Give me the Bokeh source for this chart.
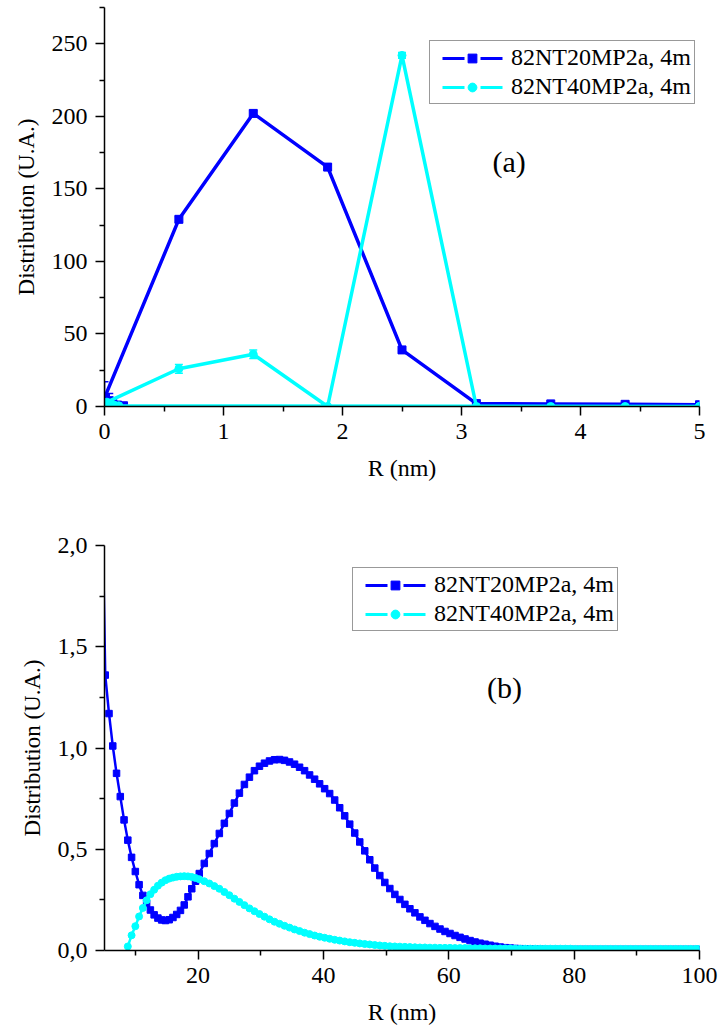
from bokeh.plotting import figure
from bokeh.models import (ColumnDataSource, Whisker, Legend, LegendItem, Label,
                          FixedTicker, CustomJSTickFormatter, Range1d, TeeHead)
from bokeh.layouts import column
from bokeh.embed import file_html
from bokeh.resources import INLINE

FONT = "Liberation Serif"
BLUE = "#0000ff"
CYAN = "#00ffff"
nan = float("nan")

# ---------------- data: panel (a) ----------------
label_20 = "82NT20MP2a, 4m"
label_40 = "82NT40MP2a, 4m"

a_r_20 = [0.16, 0.11, 0.07, 0.04, 0.0, 0.625, 1.25, 1.875, 2.5, 3.125, 3.75, 4.375, 5.0]
a_y_20 = [0.5, 1.0, 2.0, 4.0, 6.0, 129.0, 202.0, 165.0, 39.0, 2.0, 1.8, 1.5, 1.2]
a_e_20 = [0.5, 1.0, 2.0, 5.0, 11.0, 2.0, 2.0, 2.0, 1.5, 1.0, 1.0, 1.0, 1.0]

a_r_40 = [5.0, 0.12, 0.08, 0.05, 0.02, 0.625, 1.25, 1.875, 2.5, 3.125, 3.75, 4.375, 5.0]
a_y_40 = [0.0, 0.5, 1.0, 1.8, 3.0, 26.0, 36.0, 0.0, 242.0, 0.0, 0.0, 0.0, 0.0]
a_e_40 = [0.0, 0.3, 0.5, 1.0, 1.5, 3.0, 3.0, 0.5, 2.0, 0.5, 0.0, 0.0, 0.0]

a_xticks = [0, 1, 2, 3, 4, 5]
a_xminor = [0.5, 1.5, 2.5, 3.5, 4.5]
a_yticks = [0, 50, 100, 150, 200, 250]
a_yminor = [25, 75, 125, 175, 225, 275]

# ---------------- data: panel (b) ----------------
b_r = [4.5, 5.2, 5.8, 6.4, 7.0, 7.6, 8.2, 8.8, 9.4, 10.0, 10.6, 11.2, 11.8,
       12.4, 13.0, 13.6, 14.2, 14.8, 15.4, 16.0, 16.6, 17.2, 17.8, 18.4, 19.0, 19.6,
       20.2, 21.0, 21.8, 22.6, 23.4, 24.2, 25.0, 25.8, 26.6, 27.4,
       28.2, 29.0, 29.8, 30.6, 31.4, 32.2, 33.0, 33.8, 34.6, 35.4,
       36.2, 37.0, 37.8, 38.6, 39.4, 40.2, 41.0, 41.8, 42.6, 43.4,
       44.2, 45.0, 45.8, 46.6, 47.4, 48.2, 49.0, 49.8, 50.6, 51.4,
       52.2, 53.0, 53.8, 54.6, 55.4, 56.2, 57.0, 57.8, 58.6, 59.4,
       60.2, 61.0, 61.8, 62.6, 63.4, 64.2, 65.0, 65.8, 66.6, 67.4,
       68.2, 69.0, 69.8, 70.6, 71.4, 72.2, 73.0, 73.8, 74.6, 75.4,
       76.2, 77.0, 77.8, 78.6, 79.4, 80.2, 81.0, 81.8, 82.6, 83.4,
       84.2, 85.0, 85.8, 86.6, 87.4, 88.2, 89.0, 89.8, 90.6, 91.4,
       92.2, 93.0, 93.8, 94.6, 95.4, 96.2, 97.0, 97.8, 98.6, 99.4,
       100.0]

b_y_20 = [2.60, 1.36, 1.17, 1.01, 0.875, 0.76, 0.645, 0.545, 0.46, 0.39, 0.325, 0.272, 0.232,
          0.20, 0.176, 0.16, 0.151, 0.148, 0.152, 0.163, 0.178, 0.198, 0.225, 0.265, 0.305, 0.342,
          0.38, 0.43, 0.479, 0.528, 0.578, 0.628, 0.677, 0.728, 0.777, 0.82,
          0.856, 0.888, 0.91, 0.925, 0.936, 0.942, 0.943, 0.939, 0.931, 0.92,
          0.905, 0.888, 0.867, 0.846, 0.823, 0.799, 0.775, 0.743, 0.705, 0.665,
          0.624, 0.58, 0.536, 0.492, 0.448, 0.407, 0.37, 0.336, 0.306, 0.277,
          0.252, 0.228, 0.206, 0.186, 0.166, 0.149, 0.133, 0.119, 0.106, 0.094,
          0.084, 0.074, 0.065, 0.057, 0.049, 0.042, 0.036, 0.031, 0.026, 0.021,
          0.017, 0.014, 0.012, 0.010, 0.009, 0.008, 0.007, 0.006, 0.006, 0.005,
          0.005, 0.005, 0.005, 0.005, 0.005, 0.005, 0.005, 0.005, 0.005, 0.005,
          0.005, 0.005, 0.005, 0.005, 0.005, 0.005, 0.005, 0.005, 0.005, 0.005,
          0.005, 0.005, 0.005, 0.005, 0.005, 0.005, 0.005, 0.005, 0.005, 0.005,
          0.005]

b_y_40 = [nan, nan, nan, nan, nan, nan, nan, 0.02, 0.075, 0.12, 0.168, 0.21, 0.248,
          0.278, 0.30, 0.32, 0.335, 0.347, 0.355, 0.36, 0.364, 0.366, 0.367, 0.366, 0.363, 0.358,
          0.352, 0.342, 0.331, 0.318, 0.305, 0.289, 0.273, 0.256, 0.24, 0.224,
          0.208, 0.194, 0.18, 0.167, 0.154, 0.142, 0.132, 0.122, 0.113, 0.104,
          0.096, 0.088, 0.081, 0.074, 0.068, 0.063, 0.058, 0.053, 0.049, 0.045,
          0.041, 0.038, 0.035, 0.032, 0.030, 0.027, 0.025, 0.023, 0.021, 0.020,
          0.019, 0.018, 0.017, 0.016, 0.015, 0.015, 0.014, 0.014, 0.013, 0.013,
          0.013, 0.012, 0.012, 0.012, 0.011, 0.011, 0.011, 0.010, 0.010, 0.010,
          0.010, 0.010, 0.010, 0.009, 0.009, 0.009, 0.009, 0.009, 0.009, 0.009,
          0.009, 0.009, 0.009, 0.009, 0.009, 0.008, 0.008, 0.008, 0.008, 0.008,
          0.008, 0.008, 0.008, 0.008, 0.008, 0.008, 0.008, 0.008, 0.008, 0.008,
          0.008, 0.008, 0.008, 0.008, 0.008, 0.008, 0.008, 0.008, 0.008, 0.008,
          0.008]

b_xticks = [20, 40, 60, 80, 100]
b_xminor = [10, 30, 50, 70, 90]
b_yticks = [0.0, 0.5, 1.0, 1.5, 2.0]
b_yminor = [0.25, 0.75, 1.25, 1.75]


def style(p, xt, xm, yt, ym, xlabel, ylabel):
    p.outline_line_color = None
    p.xgrid.visible = False
    p.ygrid.visible = False
    p.background_fill_color = "white"
    p.border_fill_color = "white"
    p.xaxis.ticker = FixedTicker(ticks=xt, minor_ticks=xm)
    p.yaxis.ticker = FixedTicker(ticks=yt, minor_ticks=ym)
    for ax in (p.xaxis[0], p.yaxis[0]):
        ax.axis_line_color = "black"
        ax.axis_line_width = 1.5
        ax.major_tick_line_color = "black"
        ax.major_tick_line_width = 1.5
        ax.minor_tick_line_color = "black"
        ax.minor_tick_line_width = 1.5
        ax.major_tick_in = 0
        ax.major_tick_out = 9
        ax.minor_tick_in = 0
        ax.minor_tick_out = 5
        ax.major_label_text_font = FONT
        ax.major_label_text_font_size = "24px"
        ax.major_label_text_color = "black"
        ax.axis_label_text_font = FONT
        ax.axis_label_text_font_style = "normal"
        ax.axis_label_text_color = "black"
    p.xaxis.axis_label_text_font_size = "24px"
    p.yaxis.axis_label_text_font_size = "23px"
    p.xaxis.axis_label = xlabel
    p.yaxis.axis_label = ylabel
    p.xaxis.major_label_standoff = 8
    p.yaxis.major_label_standoff = 8
    p.xaxis.axis_label_standoff = 13
    p.yaxis.axis_label_standoff = 10


def add_legend(p, loc):
    l1 = p.line(x=[0], y=[nan], line_color=BLUE, line_width=3, line_dash="22 16", line_dash_offset=29)
    m1 = p.scatter(x=[0], y=[nan], marker="square", color=BLUE)
    l2 = p.line(x=[0], y=[nan], line_color=CYAN, line_width=3, line_dash="22 16", line_dash_offset=29)
    m2 = p.scatter(x=[0], y=[nan], marker="circle", color=CYAN)
    leg = Legend(items=[LegendItem(label=label_20, renderers=[l1, m1]),
                        LegendItem(label=label_40, renderers=[l2, m2])],
                 location=loc, glyph_width=78, glyph_height=22, label_height=22,
                 label_standoff=0, padding=3, spacing=2, margin=0,
                 label_text_font=FONT, label_text_font_size="24px",
                 label_text_color="black", border_line_color="#333333",
                 border_line_width=1, background_fill_color="white",
                 background_fill_alpha=1.0)
    p.add_layout(leg)


# ---------------- panel (a) ----------------
p1 = figure(width=723, height=486, x_range=Range1d(0, 5), y_range=Range1d(0, 275),
            output_backend="svg", toolbar_location=None,
            min_border_left=100, min_border_right=24, min_border_top=7, min_border_bottom=80)
style(p1, a_xticks, a_xminor, a_yticks, a_yminor, "R (nm)", "Distribution (U.A.)")

src20 = ColumnDataSource(dict(r=a_r_20, y=a_y_20,
                              up=[y + e for y, e in zip(a_y_20, a_e_20)],
                              lo=[y - e for y, e in zip(a_y_20, a_e_20)]))
src40 = ColumnDataSource(dict(r=a_r_40, y=a_y_40,
                              up=[y + e for y, e in zip(a_y_40, a_e_40)],
                              lo=[y - e for y, e in zip(a_y_40, a_e_40)]))

p1.line("r", "y", source=src20, line_color=BLUE, line_width=3.5)
p1.add_layout(Whisker(source=src20, base="r", upper="up", lower="lo", line_color=BLUE, line_width=1.5,
                      upper_head=TeeHead(size=8, line_color=BLUE, line_width=1.5),
                      lower_head=TeeHead(size=8, line_color=BLUE, line_width=1.5)))
p1.scatter("r", "y", source=src20, marker="square", size=8, color=BLUE)

p1.line("r", "y", source=src40, line_color=CYAN, line_width=3.5)
p1.add_layout(Whisker(source=src40, base="r", upper="up", lower="lo", line_color=CYAN, line_width=1.5,
                      upper_head=TeeHead(size=8, line_color=CYAN, line_width=1.5),
                      lower_head=TeeHead(size=8, line_color=CYAN, line_width=1.5)))
p1.scatter("r", "y", source=src40, marker="circle", size=8, color=CYAN)

add_legend(p1, (325, 302))
p1.add_layout(Label(x=3.4, y=169, text="(a)", text_font=FONT, text_font_size="30px",
                    text_align="center", text_baseline="middle", text_color="black"))

# ---------------- panel (b) ----------------
p2 = figure(width=723, height=541, x_range=Range1d(5.08, 100), y_range=Range1d(0, 2.0),
            output_backend="svg", toolbar_location=None,
            min_border_left=104, min_border_right=19, min_border_top=59, min_border_bottom=75)
style(p2, b_xticks, b_xminor, b_yticks, b_yminor, "R (nm)", "Distribution (U.A.)")
p2.yaxis.formatter = CustomJSTickFormatter(code="return tick.toFixed(1).replace('.', ',');")

srcb = ColumnDataSource(dict(r=b_r, y20=b_y_20, y40=b_y_40))
p2.line("r", "y20", source=srcb, line_color=BLUE, line_width=2.5)
p2.scatter("r", "y20", source=srcb, marker="square", size=6.5, color=BLUE)
p2.line("r", "y40", source=srcb, line_color=CYAN, line_width=2.5)
p2.scatter("r", "y40", source=srcb, marker="circle", size=7, color=CYAN)

add_legend(p2, (248, 319))
p2.add_layout(Label(x=68.9, y=1.30, text="(b)", text_font=FONT, text_font_size="30px",
                    text_align="center", text_baseline="middle", text_color="black"))

layout = column(p1, p2, spacing=0)
open("out.html", "w").write(file_html(layout, INLINE))
